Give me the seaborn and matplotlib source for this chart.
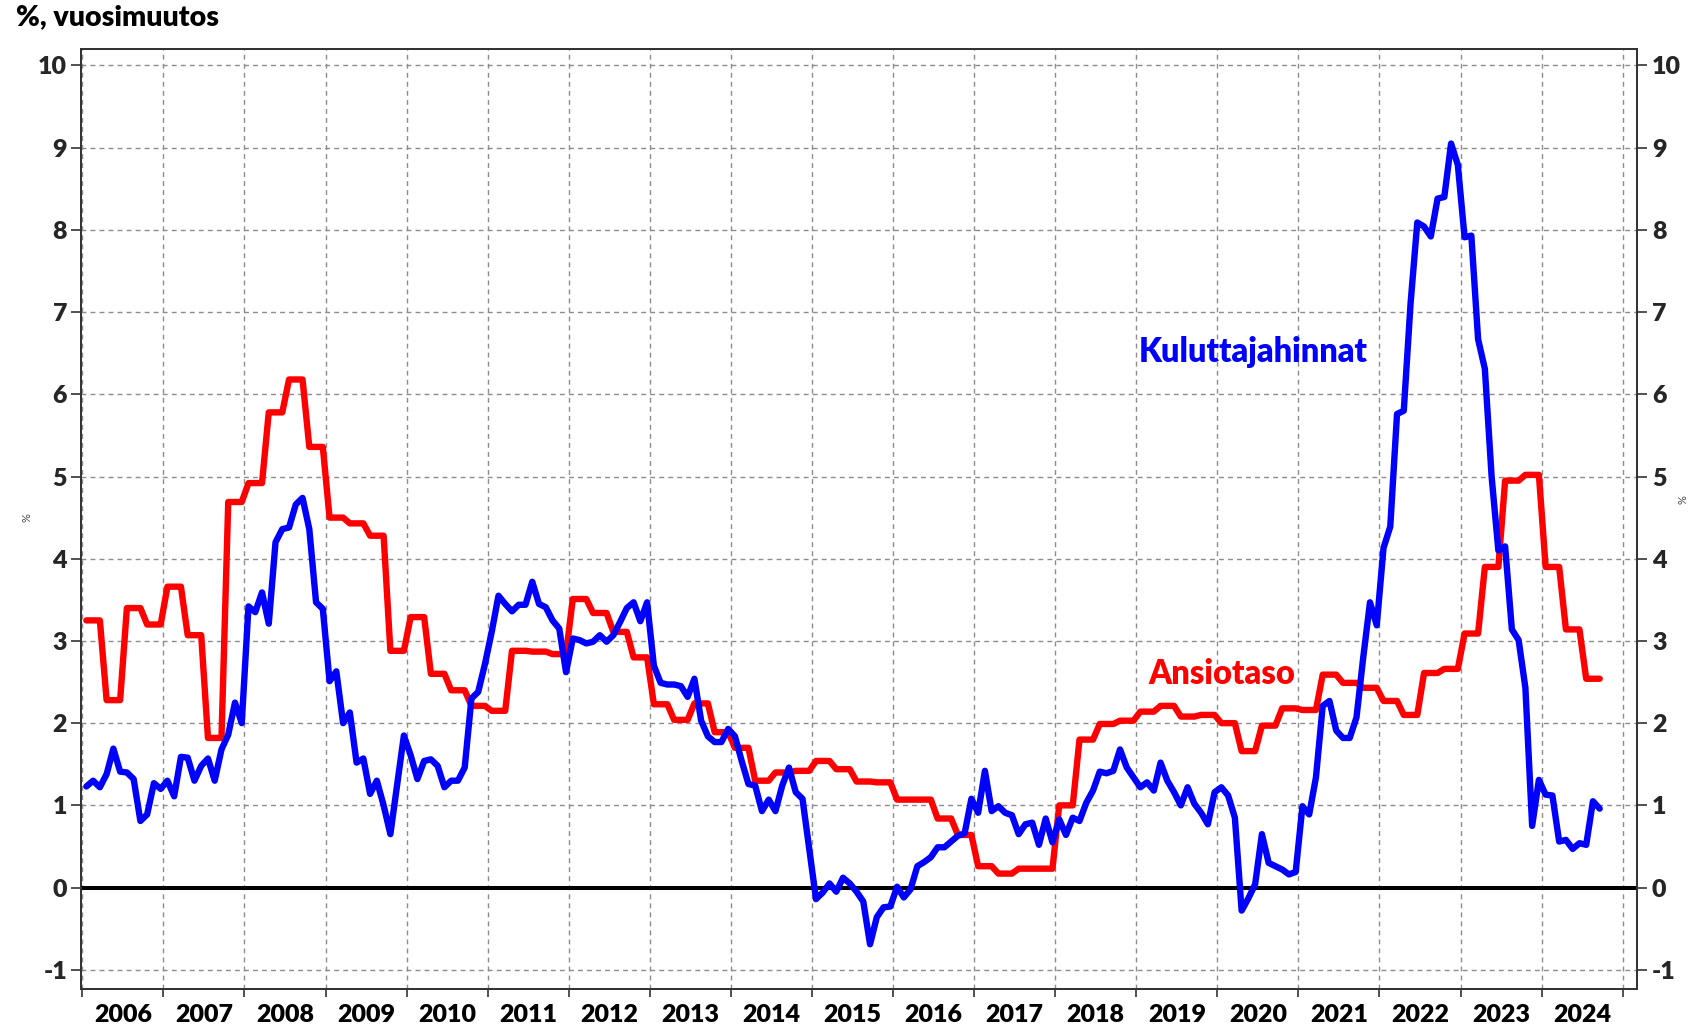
import numpy as np
import pandas as pd
import matplotlib
matplotlib.use("Agg")
import matplotlib.pyplot as plt
import seaborn as sns
from matplotlib.ticker import FixedLocator, NullFormatter, FixedFormatter

# ---- data (monthly, Jan 2006 - Sep 2024) ----
start_year = 2006
cpi = [1.23, 1.30, 1.22, 1.38, 1.69, 1.41, 1.40, 1.32, 0.81, 0.89, 1.27, 1.20,
       1.30, 1.11, 1.59, 1.58, 1.30, 1.48, 1.57, 1.30, 1.68, 1.86, 2.25, 2.00,
       3.42, 3.35, 3.59, 3.21, 4.20, 4.36, 4.38, 4.66, 4.74, 4.36, 3.47, 3.39,
       2.51, 2.63, 2.00, 2.13, 1.52, 1.57, 1.14, 1.30, 1.00, 0.65, 1.25, 1.85,
       1.61, 1.32, 1.54, 1.56, 1.48, 1.22, 1.30, 1.30, 1.46, 2.30, 2.38, 2.72,
       3.11, 3.55, 3.45, 3.36, 3.44, 3.44, 3.72, 3.45, 3.41, 3.25, 3.15, 2.62,
       3.03, 3.01, 2.97, 2.99, 3.07, 2.99, 3.07, 3.23, 3.40, 3.47, 3.24, 3.47,
       2.70, 2.49, 2.47, 2.47, 2.45, 2.32, 2.54, 2.03, 1.84, 1.77, 1.77, 1.93,
       1.84, 1.54, 1.26, 1.24, 0.93, 1.07, 0.93, 1.24, 1.46, 1.16, 1.08, 0.47,
       -0.14, -0.06, 0.05, -0.05, 0.12, 0.05, -0.05, -0.17, -0.69, -0.36, -0.24, -0.23,
       0.01, -0.12, -0.02, 0.26, 0.31, 0.37, 0.49, 0.49, 0.56, 0.63, 0.66, 1.08,
       0.91, 1.42, 0.93, 0.99, 0.91, 0.88, 0.65, 0.77, 0.79, 0.52, 0.84, 0.55,
       0.83, 0.64, 0.85, 0.81, 1.03, 1.18, 1.41, 1.39, 1.42, 1.68, 1.46, 1.34,
       1.22, 1.28, 1.18, 1.52, 1.30, 1.16, 1.00, 1.22, 1.02, 0.91, 0.77, 1.16,
       1.22, 1.12, 0.85, -0.28, -0.13, 0.04, 0.65, 0.30, 0.26, 0.22, 0.16, 0.19,
       0.99, 0.89, 1.34, 2.21, 2.27, 1.91, 1.82, 1.82, 2.07, 2.80, 3.47, 3.19,
       4.13, 4.39, 5.76, 5.80, 7.10, 8.09, 8.04, 7.92, 8.38, 8.40, 9.05, 8.79,
       7.91, 7.93, 6.67, 6.31, 5.00, 4.10, 4.15, 3.14, 3.01, 2.43, 0.75, 1.31,
       1.13, 1.12, 0.56, 0.58, 0.47, 0.54, 0.52, 1.05, 0.96]

# quarterly earnings index (Q1 2006 - Q3 2024)
earnings_q = [3.25, 2.28, 3.40, 3.20,
              3.66, 3.07, 1.82, 4.69,
              4.92, 5.78, 6.18, 5.36,
              4.50, 4.43, 4.28, 2.88,
              3.29, 2.60, 2.40, 2.21,
              2.15, 2.88, 2.87, 2.84,
              3.51, 3.34, 3.11, 2.80,
              2.23, 2.04, 2.24, 1.89,
              1.70, 1.30, 1.40, 1.42,
              1.54, 1.44, 1.29, 1.28,
              1.07, 1.07, 0.84, 0.64,
              0.26, 0.17, 0.23, 0.23,
              1.00, 1.80, 1.99, 2.03,
              2.14, 2.21, 2.08, 2.10,
              2.00, 1.66, 1.97, 2.18,
              2.16, 2.59, 2.49, 2.43,
              2.27, 2.10, 2.61, 2.66,
              3.09, 3.90, 4.95, 5.02,
              3.90, 3.14, 2.54]

years = list(range(2006, 2025))
y_ticks = list(range(-1, 11))
label_cpi = "Kuluttajahinnat"
label_earn = "Ansiotaso"
title = "%, vuosimuutos"

# ---- build frame ----
earnings = np.repeat(earnings_q, 3)
dates = pd.date_range(f"{start_year}-01-01", periods=len(cpi), freq="MS")
xpos = dates.year + (dates.month - 1 + 0.6) / 12.0
df = pd.DataFrame({"x": xpos, "cpi": cpi, "earn": earnings})

sns.set_theme(style="white")
plt.rcParams["font.family"] = ["Lato", "DejaVu Sans"]

W, H = 1691, 1031
WT = "heavy"
fig = plt.figure(figsize=(W / 100, H / 100), dpi=100)
ax = fig.add_axes([81 / W, 1 - 988.7 / H, (1636.7 - 81) / W, (988.7 - 49) / H])

ax.set_xlim(2005.984, 2025.173)
ax.set_ylim(-1.23, 10.20)

ax.axhline(0, color="black", lw=2.9, zorder=2)
sns.lineplot(data=df, x="x", y="earn", ax=ax, color="#FF0000", lw=4.6, zorder=3)
sns.lineplot(data=df, x="x", y="cpi", ax=ax, color="#0000FF", lw=4.6, zorder=4)

# x axis: gridlines/ticks at year boundaries, labels centred in between
ax.xaxis.set_major_locator(FixedLocator(list(range(2006, 2026))))
ax.xaxis.set_major_formatter(NullFormatter())
ax.xaxis.set_minor_locator(FixedLocator([y + 0.5 for y in years]))
ax.xaxis.set_minor_formatter(FixedFormatter([str(y) for y in years]))
ax.tick_params(axis="x", which="major", direction="out", length=6, width=1.2,
               color="#333333", bottom=True)
ax.tick_params(axis="x", which="minor", length=0, pad=11, labelsize=18,
               labelcolor="black")
for lab in ax.get_xticklabels(minor=True):
    lab.set_fontweight(WT)

ax.set_yticks(y_ticks)
ax.set_yticklabels([str(v) for v in y_ticks], fontsize=18, fontweight=WT)
ax.tick_params(axis="y", direction="out", length=7, width=1.2, color="#333333",
               left=True, pad=3)

ax.grid(True, which="major", axis="both", color="#8c8c8c", lw=1.0,
        linestyle=(0, (3.5, 3)))
ax.set_axisbelow(True)
ax.set_xlabel("")
ax.set_ylabel("")

for sp in ax.spines.values():
    sp.set_visible(True)
    sp.set_color("#333333")
    sp.set_linewidth(1.3)

ax2 = ax.twinx()
ax2.set_ylim(ax.get_ylim())
ax2.set_yticks(y_ticks)
ax2.set_yticklabels([str(v) for v in y_ticks], fontsize=18, fontweight=WT)
ax2.tick_params(axis="y", direction="out", length=7, width=1.2, color="#333333",
                right=True, pad=4)
ax2.grid(False)
for sp in ax2.spines.values():
    sp.set_color("#333333")
    sp.set_linewidth(1.3)

ax.text(2019.03, 6.52, label_cpi, color="#0000FF", fontsize=23.5,
        fontweight=WT, ha="left", va="center", zorder=5)
ax.text(2019.15, 2.60, label_earn, color="#FF0000", fontsize=23.5,
        fontweight=WT, ha="left", va="center", zorder=5)

fig.text(16 / W, 1 - 17 / H, title, fontsize=20.5, fontweight=WT,
         ha="left", va="center", color="black")
fig.text(27 / W, 1 - 518 / H, "%", fontsize=8, rotation=90, ha="center",
         va="center", color="#444444")
fig.text(1683 / W, 1 - 500 / H, "%", fontsize=8, rotation=90, ha="center",
         va="center", color="#444444")

fig.savefig("out.png", dpi=100)
